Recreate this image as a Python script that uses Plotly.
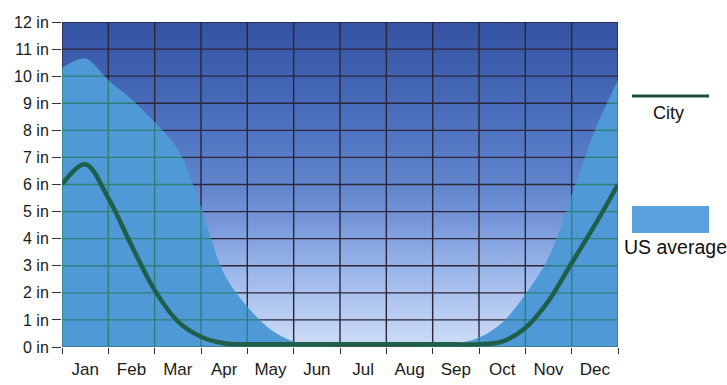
import numpy as np
import plotly.graph_objects as go

# ---- data -------------------------------------------------------------
month_labels = ["Jan", "Feb", "Mar", "Apr", "May", "Jun",
                "Jul", "Aug", "Sep", "Oct", "Nov", "Dec"]
# sample positions in months (start and middle of each month)
t_months = [0, 0.5, 1, 1.5, 2, 2.5, 3, 3.5, 4, 4.5, 5, 5.5, 6,
            6.5, 7, 7.5, 8, 8.5, 9, 9.5, 10, 10.5, 11, 11.5, 12]
city_in = [6.0, 6.75, 5.5, 3.75, 2.1, 0.95, 0.38, 0.14, 0.1, 0.1, 0.1, 0.1, 0.1,
           0.1, 0.1, 0.1, 0.1, 0.1, 0.1, 0.2, 0.7, 1.7, 3.1, 4.5, 6.0]
us_avg_in = [10.3, 10.65, 9.85, 9.15, 8.3, 7.3, 5.15, 2.7, 1.5, 0.65, 0.2, 0.04, 0.0,
             0.0, 0.0, 0.0, 0.03, 0.12, 0.35, 0.9, 1.95, 3.3, 5.6, 8.0, 9.85]
y_tick_vals = list(range(0, 13))
y_tick_text = [f"{v} in" for v in y_tick_vals]

# ---- geometry ---------------------------------------------------------
W, H = 727, 385
M_L, M_R, M_T, M_B = 62, 109, 22, 38
PW, PH = W - M_L - M_R, H - M_T - M_B
X0, X1 = 0, 12
Y0, Y1 = 0, 12

GRID_DARK = "#2c2539"
GRID_GREEN = "#2e7f78"
AREA_BLUE = "#4f9ad6"
CITY_GREEN = "#1e5f4b"


def to_px(x, y):
    return ((np.asarray(x) - X0) / (X1 - X0) * PW,
            (Y1 - np.asarray(y)) / (Y1 - Y0) * PH)


def from_px(px, py):
    return px / PW * (X1 - X0) + X0, Y1 - py / PH * (Y1 - Y0)


def spline_samples(xs, ys, smoothing=1.0, n=80):
    """Dense samples along the same open cardinal spline plotly draws."""
    px, py = to_px(xs, ys)
    pts = np.column_stack([px, py]).astype(float)
    k = len(pts)

    def tangent(p0, p1, p2):
        d1, d2 = p0 - p1, p2 - p1
        d1a = (d1 @ d1) ** 0.25
        d2a = (d2 @ d2) ** 0.25
        num = (d2a * d2a * d1 - d1a * d1a * d2) * smoothing
        den1 = 3 * d2a * (d1a + d2a)
        den2 = 3 * d1a * (d1a + d2a)
        a = p1 + (num / den1 if den1 else 0)
        b = p1 - (num / den2 if den2 else 0)
        return a, b

    tans = [tangent(pts[i - 1], pts[i], pts[i + 1]) for i in range(1, k - 1)]
    t = np.linspace(0, 1, n)[:, None]
    segs = [(1 - t) ** 2 * pts[0] + 2 * (1 - t) * t * tans[0][0] + t ** 2 * pts[1]]
    for i in range(2, k - 1):
        p0, c1, c2, p1 = pts[i - 1], tans[i - 2][1], tans[i - 1][0], pts[i]
        segs.append((1 - t) ** 3 * p0 + 3 * (1 - t) ** 2 * t * c1
                    + 3 * (1 - t) * t ** 2 * c2 + t ** 3 * p1)
    segs.append((1 - t) ** 2 * pts[k - 2] + 2 * (1 - t) * t * tans[k - 3][1]
                 + t ** 2 * pts[k - 1])
    s = np.vstack(segs)
    return from_px(s[:, 0], s[:, 1])


def grid_lines(xv, yv):
    gx, gy = [], []
    for v in yv:
        gx += [X0, X1, None]
        gy += [v, v, None]
    for v in xv:
        gx += [v, v, None]
        gy += [Y0, Y1, None]
    return gx, gy


# grid segments that lie inside the US-average area
sx, sy = spline_samples(t_months, us_avg_in)
green_x, green_y = [], []
for level in range(0, 12):
    inside = sy > level + 0.02
    if not inside.any():
        continue
    edges = np.flatnonzero(np.diff(inside.astype(int)))
    bounds = []
    if inside[0]:
        bounds.append(sx[0])
    for e in edges:
        f = (level - sy[e]) / (sy[e + 1] - sy[e])
        bounds.append(sx[e] + f * (sx[e + 1] - sx[e]))
    if inside[-1]:
        bounds.append(sx[-1])
    for a, b in zip(bounds[0::2], bounds[1::2]):
        green_x += [a, b, None]
        green_y += [level, level, None]
for m in range(0, 13):
    top = us_avg_in[t_months.index(m)]
    if top > 0:
        green_x += [m, m, None]
        green_y += [Y0, top, None]

dark_x, dark_y = grid_lines(range(0, 13), range(0, 13))

fig = go.Figure()

# gradient plot background
fig.add_trace(go.Scatter(
    x=[X0, X1, X1, X0, X0], y=[Y0, Y0, Y1, Y1, Y0],
    mode="lines", line=dict(width=0), fill="toself",
    fillgradient=dict(type="vertical", start=Y0, stop=Y1,
                      colorscale=[[0.0, "#cddcf6"], [0.1, "#b8cdf2"],
                                  [0.25, "#97b3e8"], [0.4, "#7494d8"],
                                  [0.5, "#6085cc"], [0.7, "#4c70bd"],
                                  [0.85, "#3f61af"], [1.0, "#3453a2"]]),
    hoverinfo="skip", showlegend=False))

fig.add_trace(go.Scatter(x=dark_x, y=dark_y, mode="lines",
                         line=dict(color=GRID_DARK, width=1.4),
                         hoverinfo="skip", showlegend=False))

fig.add_trace(go.Scatter(
    x=t_months, y=us_avg_in, name="US average", mode="lines",
    line=dict(shape="spline", width=0, color=AREA_BLUE, simplify=False),
    fill="tozeroy", fillcolor=AREA_BLUE, showlegend=False))

fig.add_trace(go.Scatter(x=green_x, y=green_y, mode="lines",
                         line=dict(color=GRID_GREEN, width=1.4),
                         hoverinfo="skip", showlegend=False))

fig.add_trace(go.Scatter(
    x=t_months, y=city_in, name="City", mode="lines",
    line=dict(shape="spline", width=4.5, color=CITY_GREEN, simplify=False),
    showlegend=False))


# legend drawn beside the plot
def px_to_paper_x(px):
    return (px - M_L) / PW


def px_to_paper_y(py):
    return (H - M_B - py) / PH


fig.add_shape(type="line", xref="paper", yref="paper",
              x0=px_to_paper_x(632), x1=px_to_paper_x(709),
              y0=px_to_paper_y(96), y1=px_to_paper_y(96),
              line=dict(color="#1d4e3e", width=3))
fig.add_shape(type="rect", xref="paper", yref="paper",
              x0=px_to_paper_x(632), x1=px_to_paper_x(709),
              y0=px_to_paper_y(233), y1=px_to_paper_y(206),
              line=dict(width=0), fillcolor="#5aa2de")
fig.add_annotation(xref="paper", yref="paper", x=px_to_paper_x(668),
                   y=px_to_paper_y(113), text="City", showarrow=False,
                   xanchor="center", yanchor="middle",
                   font=dict(size=18, color="#111"))
fig.add_annotation(xref="paper", yref="paper", x=px_to_paper_x(675),
                   y=px_to_paper_y(247), text="US average", showarrow=False,
                   xanchor="center", yanchor="middle",
                   font=dict(size=19.5, color="#111"))

fig.update_layout(
    width=W, height=H,
    margin=dict(l=M_L, r=M_R, t=M_T, b=M_B, pad=0, autoexpand=False),
    paper_bgcolor="white", plot_bgcolor="white",
    font=dict(family="Liberation Sans, Arial, sans-serif", color="#222"),
    showlegend=False,
    xaxis=dict(range=[X0, X1], showgrid=False, zeroline=False, showline=False,
               automargin=False,
               tickvals=[i + 0.5 for i in range(12)], ticktext=month_labels,
               ticks="", ticklabelstandoff=10,
               tickfont=dict(size=17, color="#1a1a1a"),
               minor=dict(ticks="outside", ticklen=6, tickwidth=1.2,
                          tickcolor="#333", tick0=0, dtick=1, showgrid=False)),
    yaxis=dict(range=[Y0, Y1], showgrid=False, zeroline=False, showline=False,
               automargin=False,
               tickvals=y_tick_vals, ticktext=y_tick_text,
               ticks="outside", ticklen=9, tickwidth=1.2, tickcolor="#333",
               tickfont=dict(size=16, color="#1a1a1a")),
)

fig.write_html("out.html")
